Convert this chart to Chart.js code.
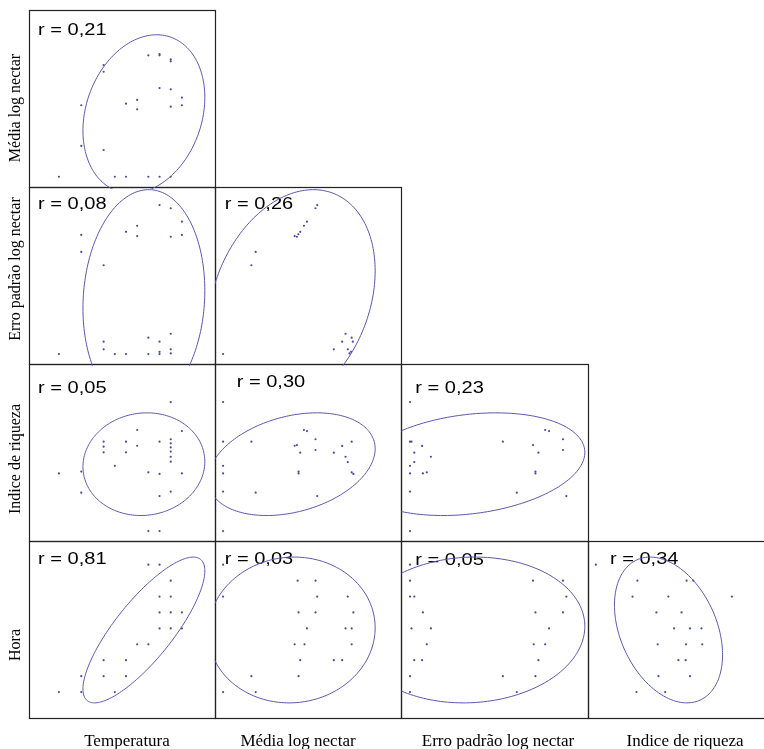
<!DOCTYPE html>
<html lang="pt">
<head>
<meta charset="utf-8">
<title>Matriz de dispersão</title>
<script src="https://cdn.jsdelivr.net/npm/chart.js@4.4.1/dist/chart.umd.min.js"></script>
<style>
  html, body { margin: 0; padding: 0; background: #fff; overflow: hidden; }
  #grafico { display: block; }
</style>
</head>
<body>
<canvas id="grafico" width="778" height="749"></canvas>
<script>
// variáveis (colunas usam 0..3, linhas usam 1..4)
const variaveis = ['Temperatura', 'Média log nectar', 'Erro padrão log nectar', 'Indice de riqueza', 'Hora'];
// centro e meia-extensão da elipse de cada variável
const centros = [27.6, 41.2, 36.5, 43.4, 11.9];
const extensoes = [5.45, 44.8, 62, 29, 4.58];
// limites dos eixos (Temperatura em °C, Hora em h, resto reescalado 0-100)
const minimos = [17.28, 0, 0, 0, 6.37];
const maximos = [33.95, 100, 100, 100, 17.49];

// pontos [x, y] de cada painel
const tempMedia = [[20,5.8],[22,46.2],[22,23.2],[24,68.9],[24,65.1],[24,20.9],[25,5.8],[26,47.1],[26,5.8],[27,49.2],[27,43.9],[28,74.4],[28,5.8],[29,75.1],[29,74.4],[29,55.9],[29,5.8],[30,72.1],[30,71.0],[30,55.2],[30,45.4],[30,5.8],[31,50.5],[31,46.2]];
const tempErro = [[20,5.6],[22,72.9],[22,63.3],[24,55.8],[24,12.6],[24,8.3],[25,5.6],[26,74.7],[26,5.6],[27,78.1],[27,72.3],[28,14.9],[28,5.6],[29,89.8],[29,12.6],[29,6.9],[29,5.6],[30,88.0],[30,71.9],[30,17.1],[30,8.3],[30,6.0],[31,80.4],[31,72.9]];
const mediaErro = [[4.4,5.6],[19.6,55.8],[21.9,63.3],[42.8,72.3],[44.0,71.9],[44.8,73.3],[45.8,74.7],[47.8,78.1],[49.4,80.4],[54.0,88.0],[54.9,89.8],[63.8,8.3],[68.3,12.6],[70.1,17.1],[71.3,8.3],[72.2,6.0],[73.1,6.9],[73.4,14.9],[74.0,12.6]];
const tempRiqueza = [[20,38.2],[22,39.2],[22,27.3],[24,56.1],[24,53.3],[24,50.1],[25,42.5],[26,56.1],[26,50.1],[27,62.7],[27,53.8],[28,38.8],[28,5.6],[29,56.1],[29,37.9],[29,25.4],[29,5.6],[30,78.5],[30,57.5],[30,55.2],[30,52.9],[30,50.5],[30,47.6],[30,44.8],[30,27.9],[31,62.1],[31,38.2]];
const mediaRiqueza = [[4.4,78.5],[4.4,56.1],[4.4,42.5],[4.4,38.2],[4.4,27.9],[4.4,5.6],[19.6,56.1],[21.9,27.3],[42.8,53.8],[44.0,54.2],[45.8,49.9],[44.9,39.2],[44.9,38.2],[47.8,62.7],[49.4,62.1],[54.0,57.5],[54.0,51.4],[54.9,25.4],[63.8,49.9],[68.3,53.7],[70.1,47.6],[71.3,44.6],[73.4,56.1],[73.4,38.8],[74.3,37.9]];
const erroRiqueza = [[4.7,78.5],[4.7,56.1],[5.5,56.1],[4.7,42.5],[4.7,38.2],[4.7,27.9],[4.7,5.6],[7.0,49.9],[7.0,44.6],[11.2,53.7],[11.6,38.2],[13.7,38.8],[15.9,47.6],[54.5,56.1],[62.0,27.3],[70.7,54.2],[72.0,39.2],[72.0,38.2],[73.6,49.9],[77.2,62.7],[79.3,62.1],[86.8,57.5],[86.8,51.4],[88.6,25.4]];
const tempHora = [[20,8],[22,9],[22,8],[24,10],[24,9],[25,8],[26,10],[26,9],[27,11],[28,11],[28,16],[29,16],[29,14],[29,13],[29,12],[30,15],[30,14],[30,13],[30,12],[31,13],[31,12]];
const mediaHora = [[4.4,16],[4.4,14],[4.4,8],[19.6,9],[21.9,8],[42.8,11],[44.4,15],[44.9,13],[44.9,9],[45.8,10],[48.1,11],[49.4,12],[54.0,15],[54.0,13],[54.9,14],[63.8,10],[68.3,10],[70.1,12],[71.3,14],[73.4,12],[73.4,11],[74.3,13]];
const erroHora = [[4.7,16],[4.7,15],[4.7,14],[7.0,14],[5.5,12],[4.7,9],[4.7,8],[7.0,10],[11.2,10],[11.6,13],[13.7,11],[15.9,12],[54.5,9],[62.0,8],[70.7,15],[71.1,11],[72.0,13],[72.0,9],[73.6,10],[77.2,11],[79.3,12],[86.8,15],[86.8,13],[88.6,14]];
const riquezaHora = [[4.4,16],[26.7,15],[24.1,14],[26.2,8],[36.9,13],[37.6,11],[38.0,9],[41.6,8],[43.3,14],[46.4,12],[48.7,10],[50.4,13],[52.6,10],[52.8,11],[53.1,15],[54.9,12],[54.9,9],[56.7,15],[61.1,12],[61.5,11],[77.4,14]];

// painéis: [variável da linha, variável da coluna]
const paineis = [[1,0],[2,0],[2,1],[3,0],[3,1],[3,2],[4,0],[4,1],[4,2],[4,3]];
const pontos = [tempMedia, tempErro, mediaErro, tempRiqueza, mediaRiqueza, erroRiqueza, tempHora, mediaHora, erroHora, riquezaHora];
const correlacoes = [0.21, 0.08, 0.26, 0.05, 0.30, 0.23, 0.81, 0.03, 0.05, -0.34];

// posição do texto "r = ..." dentro de cada painel (dx, dy da linha de base)
const posRotulo = [[9.5,25],[9.5,22],[9.75,22],[9.5,29],[21.75,23],[14,29],[9.5,23],[9.75,23],[14,24],[22.25,23]];
// rótulos das variáveis
const rotuloLinhaY = [108, 269, 459, 645];
const rotuloColunaX = [127, 298, 498, 685];

const corPonto = '#4a4aa2';
const corElipse = '#5858aa';

const escalas = {};
for (let c = 0; c < 4; c++) {
  escalas['x' + c] = {
    type: 'linear', position: 'bottom', stack: 'colunas', stackWeight: 1, weight: c,
    min: minimos[c], max: maximos[c], display: false
  };
}
for (let r = 0; r < 4; r++) {
  escalas['y' + r] = {
    type: 'linear', position: 'left', stack: 'linhas', stackWeight: 1, weight: 4 - r,
    min: minimos[r + 1], max: maximos[r + 1], display: false
  };
}

const datasets = paineis.map(([lin, col], i) => ({
  label: variaveis[col] + ' x ' + variaveis[lin],
  data: pontos[i].map(([x, y]) => ({ x, y })),
  xAxisID: 'x' + col,
  yAxisID: 'y' + (lin - 1),
  pointRadius: 1.1,
  pointBorderWidth: 0,
  pointBackgroundColor: corPonto,
  showLine: false
}));

function fmt(r) {
  return 'r = ' + Math.abs(r).toFixed(2).replace('.', ',');
}

const matriz = {
  id: 'matriz',
  beforeDatasetsDraw(chart) {
    const ctx = chart.ctx;
    ctx.save();
    paineis.forEach(([lin, col], i) => {
      const sx = chart.scales['x' + col], sy = chart.scales['y' + (lin - 1)];
      // borda do painel
      const x0 = Math.round(sx.left) + 0.5, x1 = Math.round(sx.right) + 0.5;
      const y0 = Math.round(sy.top) + 0.5, y1 = Math.round(sy.bottom) + 0.5;
      ctx.strokeStyle = '#222';
      ctx.lineWidth = 1.2;
      ctx.strokeRect(x0, y0, x1 - x0, y1 - y0);
      // texto da correlação
      ctx.save();
      ctx.fillStyle = '#000';
      ctx.font = '17px "Liberation Sans", Arial, sans-serif';
      ctx.textBaseline = 'alphabetic';
      ctx.translate(sx.left + posRotulo[i][0], sy.top + posRotulo[i][1]);
      ctx.scale(1.18, 1);
      ctx.fillText(fmt(correlacoes[i]), 0, 0);
      ctx.restore();
    });
    // nomes das linhas
    ctx.fillStyle = '#000';
    ctx.font = '16px "Liberation Serif", "Times New Roman", serif';
    ctx.textAlign = 'center';
    for (let r = 0; r < 4; r++) {
      ctx.save();
      ctx.translate(20, rotuloLinhaY[r]);
      ctx.rotate(-Math.PI / 2);
      ctx.fillText(variaveis[r + 1], 0, 0);
      ctx.restore();
    }
    // nomes das colunas
    ctx.font = '17px "Liberation Serif", "Times New Roman", serif';
    for (let c = 0; c < 4; c++) {
      ctx.fillText(variaveis[c], rotuloColunaX[c], 746);
    }
    ctx.restore();
  },
  afterDatasetsDraw(chart) {
    const ctx = chart.ctx;
    ctx.save();
    ctx.strokeStyle = corElipse;
    ctx.lineWidth = 1;
    paineis.forEach(([lin, col], i) => {
      const sx = chart.scales['x' + col], sy = chart.scales['y' + (lin - 1)];
      const r = correlacoes[i], q = Math.sqrt(1 - r * r);
      ctx.save();
      ctx.beginPath();
      ctx.rect(sx.left, sy.top - 1, sx.right - sx.left, sy.bottom - sy.top + 3);
      ctx.clip();
      ctx.beginPath();
      for (let k = 0; k <= 200; k++) {
        const t = k / 200 * 2 * Math.PI;
        const vx = centros[col] + extensoes[col] * Math.cos(t);
        const vy = centros[lin] + extensoes[lin] * (r * Math.cos(t) + q * Math.sin(t));
        const px = sx.getPixelForValue(vx), py = sy.getPixelForValue(vy);
        if (k === 0) ctx.moveTo(px, py); else ctx.lineTo(px, py);
      }
      ctx.stroke();
      ctx.restore();
    });
    ctx.restore();
  }
};

new Chart(document.getElementById('grafico'), {
  type: 'scatter',
  data: { datasets },
  options: {
    responsive: false,
    animation: false,
    devicePixelRatio: 1,
    events: [],
    layout: { padding: { left: 28.5, right: 2.5, top: 10, bottom: 31 } },
    scales: escalas,
    plugins: { legend: { display: false }, tooltip: { enabled: false } }
  },
  plugins: [matriz]
});
</script>
</body>
</html>
